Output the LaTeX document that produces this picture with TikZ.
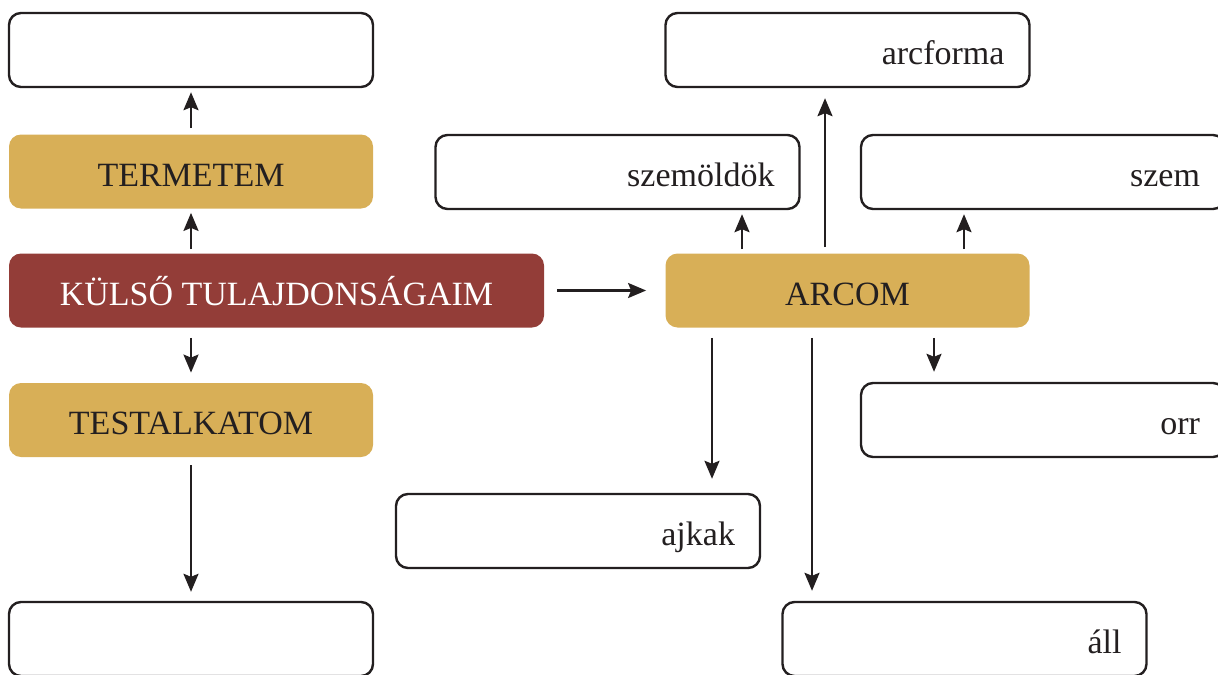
\documentclass[tikz,border=0pt]{standalone}
\usepackage{fontspec}
\setmainfont{Liberation Serif}
\usetikzlibrary{arrows.meta}
\definecolor{gold}{HTML}{D8AF57}
\definecolor{wine}{HTML}{933D38}
\definecolor{ink}{HTML}{231F20}
\tikzset{
  base/.style={rounded corners=6pt, minimum width=182pt, minimum height=37pt, inner sep=0pt, text height=14.5pt, text depth=0pt, font=\fontsize{17}{20}\selectfont, text=ink},
  empty/.style={base, draw=ink, line width=1.2pt, fill=white},
  label/.style={base, draw=ink, line width=1.2pt, fill=white, text width=157pt, align=right},
  goldbox/.style={base, fill=gold, align=center},
  redbox/.style={base, fill=wine, text=white, minimum width=267.5pt, align=center},
  arr/.style={-{Stealth[length=9pt,width=7.5pt,inset=1.5pt]}, line width=1.2pt, draw=ink},
}
\begin{document}
\begin{tikzpicture}[x=0.5pt,y=-0.5pt]
\useasboundingbox (0,0) rectangle (1218,674);
\clip (0,0) rectangle (1218,674);
% left column
\node[empty]   (top)   at (191,50)  {};
\node[goldbox] (term)  at (191,171.5) {TERMETEM};
\node[redbox]  (kulso) at (276.5,290.5) {KÜLSŐ TULAJDONSÁGAIM};
\node[goldbox] (test)  at (191,420) {TESTALKATOM};
\node[empty]   (bot)   at (191,639) {};
% right part
\node[label] (arcforma) at (847.5,50) {arcforma};
\node[label] (szemold)  at (617.5,172) {szemöldök};
\node[label] (szem)     at (1043,172) {szem};
\node[goldbox] (arcom)  at (847.5,290.5) {ARCOM};
\node[label] (orr)      at (1043,420) {orr};
\node[label] (ajkak)    at (578,531) {ajkak};
\node[label] (all)      at (964.5,639) {áll};
% arrows left
\draw[arr, shorten <=3pt, shorten >=2pt] (term.north) -- (top.south);
\draw[arr, shorten <=2pt, shorten >=2pt] (kulso.north -| term.south) -- (term.south);
\draw[arr, shorten <=5pt, shorten >=5pt] (kulso.south -| test.north) -- (test.north);
\draw[arr, shorten <=4pt, shorten >=4.5pt] (test.south) -- (bot.north);
\draw[arr, shorten <=6.5pt, shorten >=9.5pt] (kulso.east) -- (arcom.west);
% arrows from ARCOM
\draw[arr, shorten <=2pt, shorten >=2pt] (arcom.north -| 742,0) -- (szemold.south -| 742,0);
\draw[arr, shorten <=3pt, shorten >=5pt] (arcom.north -| 825,0) -- (arcforma.south -| 825,0);
\draw[arr, shorten <=2pt, shorten >=2pt] (arcom.north -| 964,0) -- (szem.south -| 964,0);
\draw[arr, shorten <=5pt, shorten >=5pt] (arcom.south -| 934,0) -- (orr.north -| 934,0);
\draw[arr, shorten <=5pt, shorten >=7pt] (arcom.south -| 712,0) -- (ajkak.north -| 712,0);
\draw[arr, shorten <=5pt, shorten >=5pt] (arcom.south -| 812,0) -- (all.north -| 812,0);
\end{tikzpicture}
\end{document}
